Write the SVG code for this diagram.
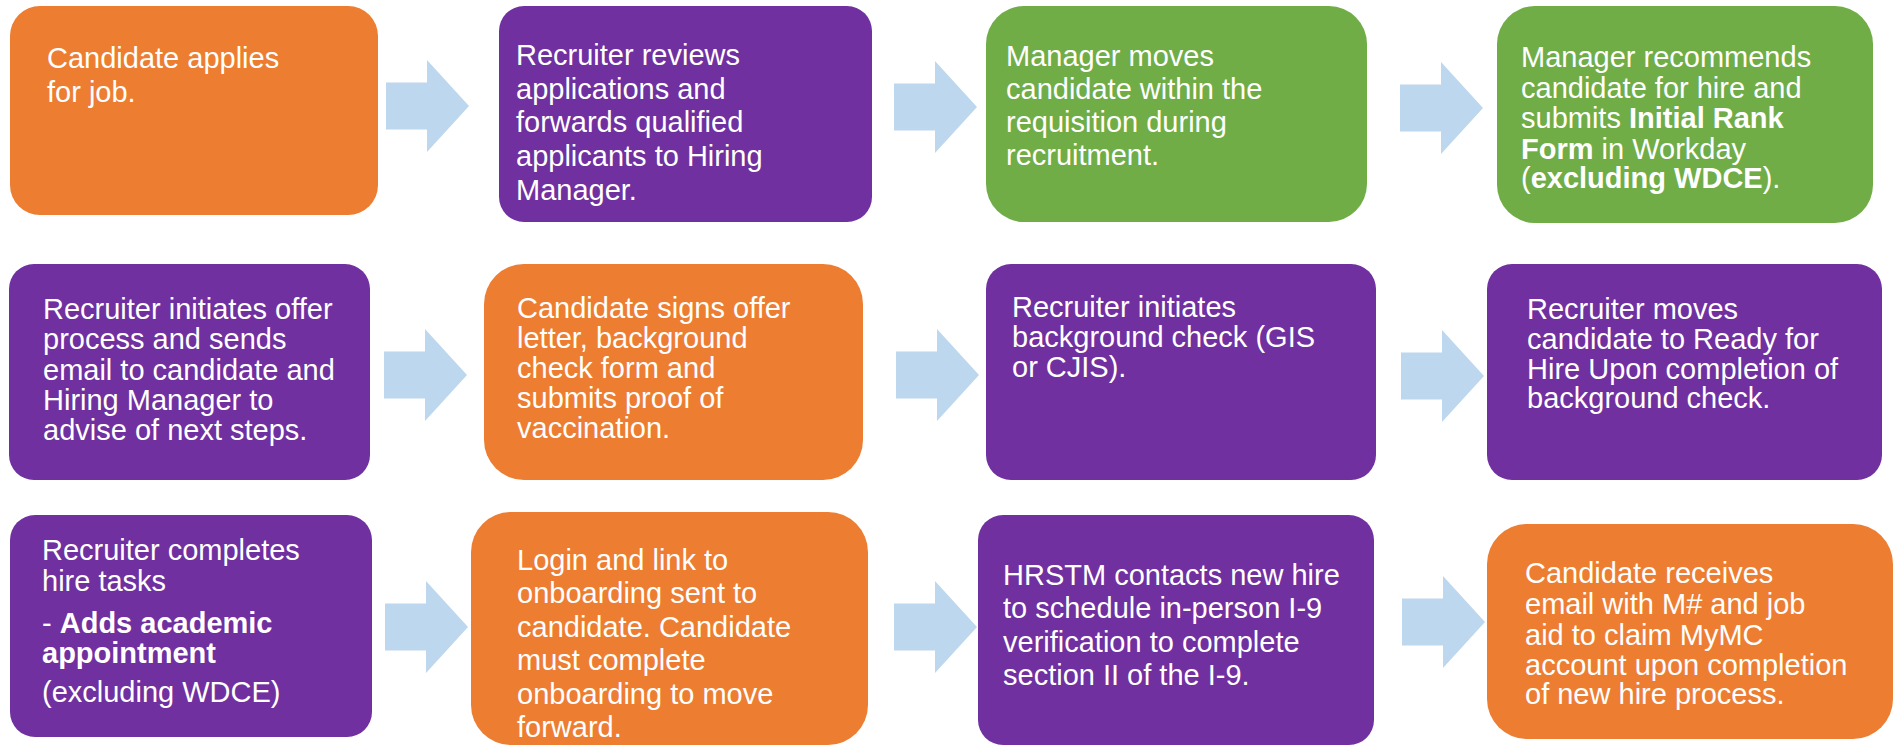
<svg xmlns="http://www.w3.org/2000/svg" width="1896" height="747" viewBox="0 0 1896 747">
<defs>
<style>
.o{fill:#ED7D31}
.p{fill:#7030A0}
.g{fill:#70AD47}
.a{fill:#BDD7EE}
text{font-family:"Liberation Sans",Arial,sans-serif;font-size:29px;fill:#FFFFFF}
.b{font-weight:bold}
</style>
<path id="arr" d="M0,-23.5 H41 V-46 L83,0 L41,46 V23.5 H0 Z"/>
</defs>
<rect width="1896" height="747" fill="#FFFFFF"/>
<g id="connectors" class="a">
<use href="#arr" x="386" y="106"/>
<use href="#arr" x="894" y="107"/>
<use href="#arr" x="1400" y="108"/>
<use href="#arr" x="384" y="375"/>
<use href="#arr" x="896" y="375"/>
<use href="#arr" x="1401" y="376"/>
<use href="#arr" x="385" y="627"/>
<use href="#arr" x="894" y="627"/>
<use href="#arr" x="1402" y="622"/>
</g>
<g id="n1"><rect class="o" x="10" y="6" width="368" height="209" rx="30"/>
<text><tspan x="47" y="68">Candidate applies</tspan><tspan x="47" y="102">for job.</tspan></text></g>
<g id="n2"><rect class="p" x="499" y="6" width="373" height="216" rx="25"/>
<text><tspan x="516" y="65">Recruiter reviews</tspan><tspan x="516" y="98.5">applications and</tspan><tspan x="516" y="132">forwards qualified</tspan><tspan x="516" y="166">applicants to Hiring</tspan><tspan x="516" y="200">Manager.</tspan></text></g>
<g id="n3"><rect class="g" x="986" y="6" width="381" height="216" rx="38"/>
<text><tspan x="1006" y="66">Manager moves</tspan><tspan x="1006" y="98.5">candidate within the</tspan><tspan x="1006" y="132">requisition during</tspan><tspan x="1006" y="165">recruitment.</tspan></text></g>
<g id="n4"><rect class="g" x="1497" y="6" width="376" height="217" rx="38"/>
<text><tspan x="1521" y="67">Manager recommends</tspan><tspan x="1521" y="98">candidate for hire and</tspan><tspan x="1521" y="128">submits <tspan class="b">Initial Rank</tspan></tspan><tspan x="1521" y="159"><tspan class="b">Form</tspan> in Workday</tspan><tspan x="1521" y="188">(<tspan class="b">excluding WDCE</tspan>).</tspan></text></g>
<g id="n5"><rect class="p" x="9" y="264" width="361" height="216" rx="25"/>
<text><tspan x="43" y="319">Recruiter initiates offer</tspan><tspan x="43" y="349">process and sends</tspan><tspan x="43" y="380">email to candidate and</tspan><tspan x="43" y="410">Hiring Manager to</tspan><tspan x="43" y="440">advise of next steps.</tspan></text></g>
<g id="n6"><rect class="o" x="484" y="264" width="379" height="216" rx="40"/>
<text><tspan x="517" y="318">Candidate signs offer</tspan><tspan x="517" y="348">letter, background</tspan><tspan x="517" y="378">check form and</tspan><tspan x="517" y="408">submits proof of</tspan><tspan x="517" y="438">vaccination.</tspan></text></g>
<g id="n7"><rect class="p" x="986" y="264" width="390" height="216" rx="25"/>
<text><tspan x="1012" y="317">Recruiter initiates</tspan><tspan x="1012" y="347">background check (GIS</tspan><tspan x="1012" y="377">or CJIS).</tspan></text></g>
<g id="n8"><rect class="p" x="1487" y="264" width="395" height="216" rx="25"/>
<text><tspan x="1527" y="319">Recruiter moves</tspan><tspan x="1527" y="349">candidate to Ready for</tspan><tspan x="1527" y="379">Hire Upon completion of</tspan><tspan x="1527" y="408">background check.</tspan></text></g>
<g id="n9"><rect class="p" x="10" y="515" width="362" height="222" rx="25"/>
<text><tspan x="42" y="560">Recruiter completes</tspan><tspan x="42" y="591">hire tasks</tspan><tspan x="42" y="633">- <tspan class="b">Adds academic</tspan></tspan><tspan x="42" y="663" class="b">appointment</tspan><tspan x="42" y="702">(excluding WDCE)</tspan></text></g>
<g id="n10"><rect class="o" x="471" y="512" width="397" height="233" rx="40"/>
<text><tspan x="517" y="570">Login and link to</tspan><tspan x="517" y="603">onboarding sent to</tspan><tspan x="517" y="637">candidate. Candidate</tspan><tspan x="517" y="670">must complete</tspan><tspan x="517" y="704">onboarding to move</tspan><tspan x="517" y="737">forward.</tspan></text></g>
<g id="n11"><rect class="p" x="978" y="515" width="396" height="230" rx="25"/>
<text><tspan x="1003" y="585">HRSTM contacts new hire</tspan><tspan x="1003" y="618">to schedule in-person I-9</tspan><tspan x="1003" y="652">verification to complete</tspan><tspan x="1003" y="685">section II of the I-9.</tspan></text></g>
<g id="n12"><rect class="o" x="1487" y="524" width="406" height="215" rx="40"/>
<text><tspan x="1525" y="583">Candidate receives</tspan><tspan x="1525" y="614">email with M# and job</tspan><tspan x="1525" y="645">aid to claim MyMC</tspan><tspan x="1525" y="675">account upon completion</tspan><tspan x="1525" y="704">of new hire process.</tspan></text></g>
</svg>
